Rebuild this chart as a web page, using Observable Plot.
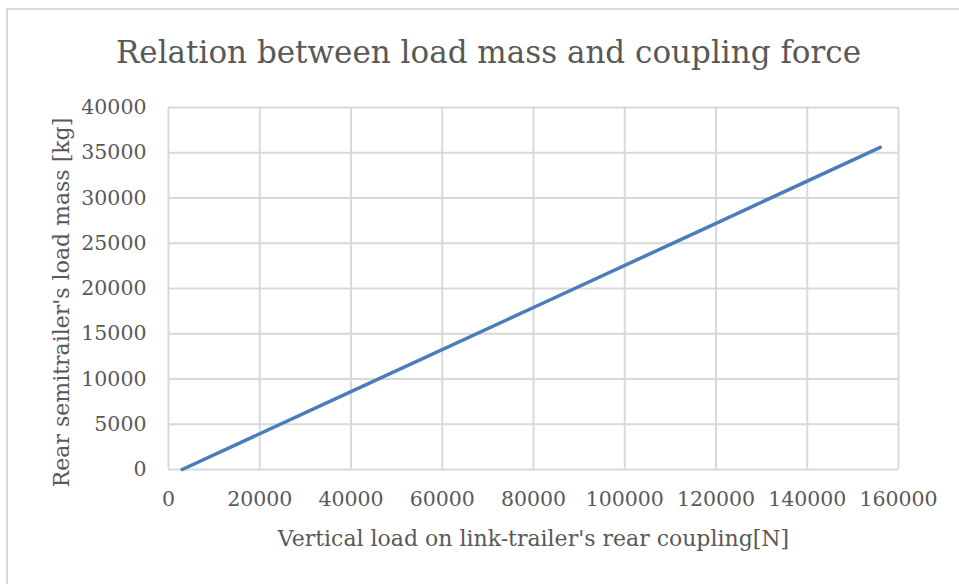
<!DOCTYPE html>
<html>
<head>
<meta charset="utf-8">
<script src="https://cdn.jsdelivr.net/npm/d3@7"></script>
<script src="https://cdn.jsdelivr.net/npm/@observablehq/plot@0.6"></script>
<style>
  html, body { margin: 0; padding: 0; background: #fff; }
  #wrap { position: relative; width: 959px; height: 584px; overflow: hidden; }
  #border { position: absolute; left: 6px; top: 8px; width: 1000px; height: 700px; border: 2px solid #d9d9d9; box-sizing: border-box; }
  #chart { position: absolute; left: 0; top: 0; }
</style>
</head>
<body>
<div id="wrap"><div id="border"></div><div id="chart"></div></div>
<script>
const titleText = "Relation between load mass and coupling force";
const xLabel = "Vertical load on link-trailer's rear coupling[N]";
const yLabel = "Rear semitrailer's load mass [kg]";

// series
const verticalLoad = [3000, 40000, 80000, 120000, 156000];
const loadMass = [0, 8600, 17900, 27200, 35600];

const xTicks = [0, 20000, 40000, 60000, 80000, 100000, 120000, 140000, 160000];
const yTicks = [0, 5000, 10000, 15000, 20000, 25000, 30000, 35000, 40000];

const data = verticalLoad.map((x, i) => ({x, y: loadMass[i]}));

const font = "'DejaVu Serif', serif";
const textColor = "#595959";
const gridColor = "#d9d9d9";

const chart = Plot.plot({
  width: 959,
  height: 584,
  marginLeft: 168,
  marginRight: 61,
  marginTop: 107,
  marginBottom: 115,
  style: {fontFamily: font, color: textColor, background: "transparent"},
  x: {domain: [0, 160000], ticks: xTicks, tickFormat: d => String(d)},
  y: {domain: [0, 40000], ticks: yTicks, tickFormat: d => String(d)},
  marks: [
    Plot.gridX(xTicks, {stroke: gridColor, strokeOpacity: 1, strokeWidth: 2}),
    Plot.gridY(yTicks, {stroke: gridColor, strokeOpacity: 1, strokeWidth: 2}),
    Plot.axisX(xTicks, {tickSize: 0, tickPadding: 22, fontSize: 20.5, fill: textColor, label: null, tickFormat: d => String(d)}),
    Plot.axisY(yTicks, {tickSize: 0, tickPadding: 22, fontSize: 20.5, fill: textColor, label: null, tickFormat: d => String(d)}),
    Plot.line(data, {x: "x", y: "y", stroke: "#4a7ebb", strokeWidth: 3.5}),
    Plot.text([titleText], {frameAnchor: "top", dx: -45, dy: -54, fontSize: 31, fill: textColor, lineAnchor: "middle"}),
    Plot.text([xLabel], {frameAnchor: "bottom", dy: 69, fontSize: 22, fill: textColor, lineAnchor: "middle"}),
    Plot.text([yLabel], {frameAnchor: "left", dx: -107, dy: 14, rotate: -90, textAnchor: "middle", fontSize: 22, fill: textColor, lineAnchor: "middle"})
  ]
});
document.getElementById("chart").appendChild(chart);
</script>
</body>
</html>
